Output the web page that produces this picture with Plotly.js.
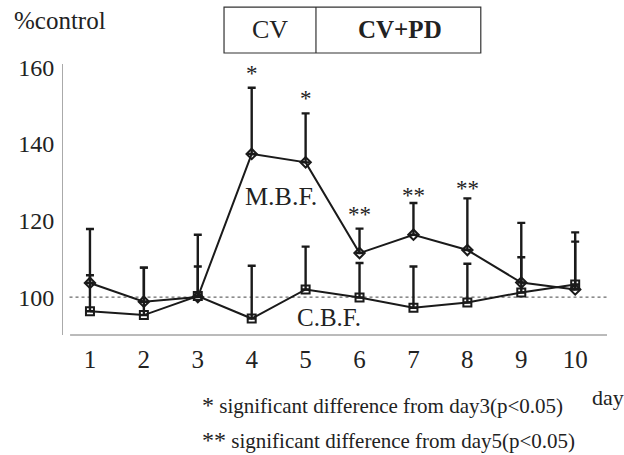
<!DOCTYPE html>
<html>
<head>
<meta charset="utf-8">
<script src="https://cdn.plot.ly/plotly-3.0.1.min.js"></script>
<style>html,body{margin:0;padding:0;background:#fff;}#chart{width:624px;height:455px;}</style>
</head>
<body>
<div id="chart"></div>
<script>
// ---- data ----
var days = [1, 2, 3, 4, 5, 6, 7, 8, 9, 10];
var dayLabels = ["1", "2", "3", "4", "5", "6", "7", "8", "9", "10"];
var mbf = [103.7, 98.8, 100.0, 137.4, 135.2, 111.5, 116.3, 112.3, 103.8, 102.0];
var mbfErr = [14.1, 8.9, 16.3, 17.3, 12.8, 6.4, 8.3, 13.5, 15.6, 14.9];
var cbf = [96.3, 95.3, 100.3, 94.4, 102.0, 99.9, 97.2, 98.6, 101.2, 103.3];
var cbfErr = [9.4, 12.4, 7.7, 13.8, 11.2, 9.0, 10.8, 10.1, 9.2, 11.2];
var yTicks = [100, 120, 140, 160];
var starDays = [4, 5, 6, 7, 8];
var starText = ["*", "*", "**", "**", "**"];
var starY = [158.4, 151.8, 121.6, 126.6, 128.4];

var serif = "Liberation Serif";
var zeros = days.map(function(){return 0;});

var traces = [
  {
    x: days, y: mbf, type: "scatter", mode: "lines+markers", name: "M.B.F.",
    line: {color: "#1a1a1a", width: 2},
    marker: {symbol: "diamond-open", size: 8, color: "#1a1a1a", line: {width: 2}},
    error_y: {type: "data", symmetric: false, array: mbfErr, arrayminus: zeros,
              color: "#1a1a1a", thickness: 2.4, width: 4},
    showlegend: false, hoverinfo: "skip"
  },
  {
    x: days, y: cbf, type: "scatter", mode: "lines+markers", name: "C.B.F.",
    line: {color: "#1a1a1a", width: 2},
    marker: {symbol: "square-open", size: 8, color: "#1a1a1a", line: {width: 2}},
    error_y: {type: "data", symmetric: false, array: cbfErr, arrayminus: zeros,
              color: "#1a1a1a", thickness: 2.4, width: 4},
    showlegend: false, hoverinfo: "skip"
  }
];

var annotations = [];
for (var i = 0; i < starDays.length; i++) {
  annotations.push({x: starDays[i], y: starY[i], xref: "x", yref: "y", text: starText[i],
    showarrow: false, font: {family: serif, size: 23, color: "#222"}, xanchor: "center", yanchor: "middle"});
}
annotations.push({x: 4.54, y: 126.4, xref: "x", yref: "y", text: "M.B.F.", showarrow: false,
  font: {family: serif, size: 26, color: "#222"}, xanchor: "center", yanchor: "middle"});
annotations.push({x: 5.43, y: 94.8, xref: "x", yref: "y", text: "C.B.F.", showarrow: false,
  font: {family: serif, size: 25, color: "#222"}, xanchor: "center", yanchor: "middle"});
// header and labels (paper coords)
annotations.push({x: -0.094, y: 1.16, xref: "paper", yref: "paper", text: "%control", showarrow: false,
  font: {family: serif, size: 25, color: "#222"}, xanchor: "left", yanchor: "middle"});
annotations.push({x: 0.3805, y: 1.1255, xref: "paper", yref: "paper", text: "CV", showarrow: false,
  font: {family: serif, size: 26, color: "#222"}, xanchor: "center", yanchor: "middle"});
annotations.push({x: 0.6195, y: 1.1255, xref: "paper", yref: "paper", text: "<b>CV+PD</b>", showarrow: false,
  font: {family: serif, size: 25, color: "#222"}, xanchor: "center", yanchor: "middle"});
annotations.push({x: 0.969, y: -0.229, xref: "paper", yref: "paper", text: "day", showarrow: false,
  font: {family: serif, size: 22, color: "#222"}, xanchor: "left", yanchor: "middle"});
annotations.push({x: 0.252, y: -0.258, xref: "paper", yref: "paper",
  text: "<span style='font-size:24px'>*</span> significant difference from day3(p&lt;0.05)", showarrow: false,
  font: {family: serif, size: 21, color: "#222"}, xanchor: "left", yanchor: "middle"});
annotations.push({x: 0.252, y: -0.387, xref: "paper", yref: "paper",
  text: "<span style='font-size:24px'>**</span> significant difference from day5(p&lt;0.05)", showarrow: false,
  font: {family: serif, size: 21, color: "#222"}, xanchor: "left", yanchor: "middle"});

var shapes = [
  // reference dotted line at 100
  {type: "line", xref: "paper", yref: "y", x0: 0.012, x1: 1, y0: 100, y1: 100,
   line: {color: "#444", width: 1, dash: "dot"}, layer: "below"},
  // bottom axis line
  {type: "line", xref: "paper", yref: "paper", x0: 0.013, x1: 1, y0: 0, y1: 0,
   line: {color: "#777", width: 1}},
  // header box
  {type: "rect", xref: "paper", yref: "paper", x0: 0.296, x1: 0.768, y0: 1.0406, y1: 1.210,
   line: {color: "#333", width: 1.2}, fillcolor: "rgba(0,0,0,0)"},
  {type: "line", xref: "paper", yref: "paper", x0: 0.465, x1: 0.465, y0: 1.0406, y1: 1.210,
   line: {color: "#333", width: 1.2}}
];

var layout = {
  width: 624, height: 455,
  margin: {l: 63, r: 17, t: 64, b: 120, pad: 0},
  paper_bgcolor: "#fff", plot_bgcolor: "#fff",
  showlegend: false,
  xaxis: {
    range: [0.5, 10.59], tickmode: "array", tickvals: days, ticktext: dayLabels,
    showgrid: false, zeroline: false, showline: false, ticks: "",
    ticklabelstandoff: 7,
    tickfont: {family: serif, size: 25, color: "#222"}
  },
  yaxis: {
    range: [90.1, 160.9], tickmode: "array", tickvals: yTicks,
    showgrid: false, zeroline: false, showline: true, linecolor: "#aaa", linewidth: 1,
    ticks: "", ticklabelstandoff: 3,
    tickfont: {family: serif, size: 24, color: "#222"}
  },
  annotations: annotations,
  shapes: shapes
};

Plotly.newPlot("chart", traces, layout, {displayModeBar: false, staticPlot: true});
</script>
</body>
</html>
